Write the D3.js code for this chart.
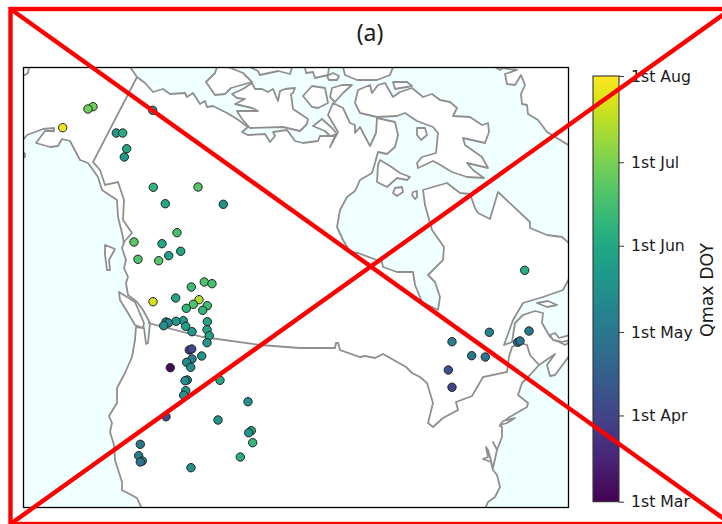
<!DOCTYPE html>
<html>
<head>
<meta charset="utf-8">
<script src="https://cdn.jsdelivr.net/npm/d3@7"></script>
<style>
  html, body { margin: 0; padding: 0; background: #fff; }
  text { font-family: "DejaVu Sans", sans-serif; fill: #1a1a1a; }
</style>
</head>
<body>
<div id="chart"></div>
<script>
// everything below is in map units, origin at the top left of the map frame

// gauge stations and their day of year of peak flow
const stationX = [38.7,69,64,128.7,92.3,98.7,102.7,100.3,129.3,174,141.3,199.3,153,110,138,156.7,144.7,114,134.7,
  180.3,188,167.3,175,129,151.7,169.3,183.3,162.3,178.7,183.3,159.3,152,142,144.3,139.7,161.7,183,168,185.3,183,
  165.3,167.7,177.7,168,162.7,166.7,146.3,163.3,161,196,161.7,159.7,224,142,194,227.3,224.7,228.7,116.3,216.3,
  114.7,118.3,116.3,167,500.7,465.3,505,428,493.7,496,447.7,461.3,424.3,428];
const stationY = [59.7,38.7,41,42.3,65,65,80.7,89,119.3,119,135.7,136.3,164.7,174,175.7,183.3,187.7,191.3,192.7,
  214,215.7,219,231.7,233.7,230,236.3,237.7,240.3,242.3,253.7,252.7,253.3,254,255,257.7,258.3,261.7,263.7,267.7,
  274.7,282,281,288,291,294.3,299.3,299.7,312,312.7,312.3,322.7,327.3,333.7,348.7,352,362.7,364.7,374.7,376.3,
  389,387.7,393,394,399.7,202.3,264.3,263,273.7,274.3,273,287.7,289,302,319.3];
const stationDoy = [208,179,180,138,140,155,150,142,160,172,152,138,168,174,152,150,147,170,172,
  170,168,165,195,203,150,170,165,160,160,150,145,143,128,130,138,148,150,143,148,142,
  88,94,140,128,133,136,64,137,136,152,140,137,136,96,142,152,140,162,122,156,
  125,140,118,136,155,126,122,126,112,118,122,118,98,92];

// colour bar
const barDoy = [60,91,121,152,182,213];
const barLabels = ["1st Mar","1st Apr","1st May","1st Jun","1st Jul","1st Aug"];

// land outlines
const mainland = [[5,-1],[106,-1],[113,9],[121,15],[129,24],[139,21],[146,26],[161,25],[163,29],[169,25],[176,36],[181,33],
  [183,39],[189,38],[203,45],[213,51],[224,59],[218,64],[224,67],[241,66],[246,74],[251,68],[249,64],[263,62],[271,73],
  [279,75],[294,73],[296,68],[306,68],[311,68],[306,79],[314,64],[304,47],[309,35],[319,40],[326,55],[331,57],[331,65],
  [336,59],[346,78],[352,65],[353,50],[371,54],[374,67],[371,79],[363,86],[354,84],[351,95],[348,105],[336,112],[331,123],
  [323,129],[316,142],[313,159],[319,172],[326,184],[334,185],[358,194],[359,199],[373,204],[389,204],[391,217],[398,234],
  [414,242],[416,229],[411,214],[404,207],[419,192],[420,179],[408,162],[401,137],[399,122],[409,119],[423,115],[436,125],
  [446,126],[451,140],[454,145],[466,151],[474,124],[506,154],[506,160],[523,167],[538,169],[546,176],[546,209],[539,222],
  [519,229],[499,235],[489,252],[480,277],[488,274],[491,255],[499,247],[511,243],[519,245],[518,255],[526,269],[541,277],
  [546,274],[546,287],[531,307],[526,308],[523,297],[531,286],[515,297],[506,307],[498,315],[494,327],[504,335],[503,339],
  [484,350],[476,358],[478,359],[478,369],[473,382],[469,374],[473,382],[469,400],[464,382],[462,379],[464,389],[459,391],
  [467,394],[469,402],[473,407],[476,419],[471,429],[464,434],[461,441],[118,441],[113,430],[98,422],[98,414],[91,392],
  [90,377],[86,364],[88,355],[85,348],[93,335],[93,320],[101,305],[108,289],[111,272],[112,259],[120,260],[122,276],
  [124,275],[126,255],[119,242],[113,234],[104,227],[102,215],[104,209],[100,200],[102,192],[98,180],[100,175],[98,165],
  [94,149],[93,132],[78,122],[74,109],[64,95],[56,92],[46,73],[38,71],[34,78],[26,79],[12,75],[21,63],[30,63],[30,60],
  [19,61],[3,67],[-1,72],[-1,7],[1,7],[4,5]];
const greenland = [[471,-1],[476,2],[478,0],[493,2],[481,6],[483,16],[491,17],[497,7],[501,17],[497,26],[498,36],[503,37],
  [504,46],[514,52],[523,64],[546,78],[546,-1]];
const islands = [
  [[95,224],[111,234],[120,255],[119,260],[111,257],[104,245],[96,232]],
  [[81,177],[91,181],[85,192],[86,202],[83,202],[81,187]],
  [[-1,84],[1,86],[1,89],[-1,89]],
  [[193,-1],[191,5],[182,14],[191,27],[201,26],[207,20],[228,14],[219,5],[204,-1]],
  [[208,26],[219,21],[228,15],[231,21],[238,21],[244,24],[249,21],[254,33],[256,23],[261,21],[271,20],[269,25],[267,26],
   [269,41],[284,51],[283,56],[276,63],[259,59],[226,60],[218,51],[213,43],[234,43],[228,40],[211,36],[221,31],[213,30]],
  [[226,-1],[234,3],[236,7],[254,3],[266,6],[268,-1]],
  [[281,-1],[282,5],[289,4],[291,10],[304,7],[305,-1]],
  [[309,5],[315,8],[313,12],[305,12],[303,8]],
  [[319,-1],[321,7],[333,12],[353,12],[366,7],[369,-1]],
  [[279,28],[288,18],[301,20],[304,35],[294,40],[288,39]],
  [[306,29],[308,20],[318,17],[328,17],[319,25],[311,34]],
  [[289,58],[298,51],[308,60],[313,66],[306,68],[301,63]],
  [[331,35],[334,22],[346,17],[348,25],[354,17],[361,15],[369,29],[376,24],[388,20],[399,29],[408,26],[416,32],[426,34],
   [433,40],[429,48],[446,49],[458,57],[464,55],[465,64],[461,75],[439,70],[441,77],[458,89],[464,100],[443,95],[449,102],
   [460,110],[443,109],[428,104],[413,95],[409,93],[394,100],[393,95],[398,89],[412,85],[414,65],[409,59],[393,53],[381,45],
   [373,48],[353,49],[336,45]],
  [[369,14],[383,14],[388,18],[371,21]],
  [[356,92],[366,98],[376,105],[386,109],[383,112],[373,110],[363,119],[353,114],[354,97]],
  [[371,120],[378,119],[379,124],[373,128],[369,125]],
  [[389,124],[393,123],[393,129],[391,131],[388,127]],
  [[393,60],[401,60],[403,67],[397,72],[393,67]],
  [[513,235],[524,233],[533,237],[523,239]],
  [[526,267],[531,265],[535,270],[546,267],[546,272],[538,274],[529,272]],
  [[476,357],[479,353],[491,350],[483,355]]
];

// country borders
const usCanadaBorder = [[124,255],[179,269],[236,277],[276,280],[311,280],[312,275],[314,275],[316,282],[336,289],[341,288],
  [351,290],[359,286],[382,299],[388,305],[396,309],[403,315],[409,335],[404,355],[409,359],[419,350],[434,342],[432,334],
  [448,328],[459,309],[483,304],[485,289],[488,279],[496,275],[503,277],[506,287],[515,297]];
const alaskaBorder = [[113,9],[69,94],[76,102],[81,117],[94,114],[100,132],[99,152],[108,165],[99,175]];

const width = 722, height = 524;
const map = {left: 23.5, top: 67.5, width: 545, height: 440};
const bar = {left: 593, top: 76, width: 26, height: 425.7};

const svg = d3.select("#chart").append("svg")
  .attr("width", width)
  .attr("height", height)
  .style("display", "block");

const xScale = d3.scaleLinear().domain([-0.5, 544.5]).range([map.left, map.left + map.width]);
const yScale = d3.scaleLinear().domain([-0.5, 439.5]).range([map.top, map.top + map.height]);
const colorScale = d3.scaleSequential(d3.interpolateViridis).domain([60, 213]);
const barScale = d3.scaleLinear().domain([60, 213]).range([bar.top + bar.height, bar.top]);

const line = d3.line().x(d => xScale(d[0])).y(d => yScale(d[1]));

const defs = svg.append("defs");
defs.append("clipPath").attr("id", "mapClip").append("rect")
  .attr("x", map.left).attr("y", map.top)
  .attr("width", map.width).attr("height", map.height);

const gradient = defs.append("linearGradient").attr("id", "viridisBar")
  .attr("x1", 0).attr("y1", 1).attr("x2", 0).attr("y2", 0);
d3.range(0, 1.001, 0.05).forEach(t => {
  gradient.append("stop").attr("offset", t).attr("stop-color", d3.interpolateViridis(t));
});

// map
const mapG = svg.append("g").attr("clip-path", "url(#mapClip)");
mapG.append("rect")
  .attr("x", map.left).attr("y", map.top)
  .attr("width", map.width).attr("height", map.height)
  .attr("fill", "#f0ffff");

mapG.selectAll("path.land")
  .data([mainland, greenland].concat(islands))
  .join("path")
  .attr("class", "land")
  .attr("d", d => line(d) + "Z")
  .attr("fill", "#fff")
  .attr("stroke", "#8f8f8f")
  .attr("stroke-width", 1.8)
  .attr("stroke-linejoin", "round");

mapG.selectAll("path.border")
  .data([usCanadaBorder, alaskaBorder])
  .join("path")
  .attr("class", "border")
  .attr("d", line)
  .attr("fill", "none")
  .attr("stroke", "#8f8f8f")
  .attr("stroke-width", 1.8);

mapG.selectAll("circle")
  .data(stationDoy)
  .join("circle")
  .attr("cx", (d, i) => xScale(stationX[i]))
  .attr("cy", (d, i) => yScale(stationY[i]))
  .attr("r", 4.2)
  .attr("fill", d => colorScale(d))
  .attr("stroke", "#222")
  .attr("stroke-width", 1);

svg.append("rect")
  .attr("x", map.left).attr("y", map.top)
  .attr("width", map.width).attr("height", map.height)
  .attr("fill", "none")
  .attr("stroke", "#000")
  .attr("stroke-width", 1.3);

svg.append("text")
  .attr("x", 370).attr("y", 41)
  .attr("text-anchor", "middle")
  .style("font-family", '"Noto Sans", sans-serif')
  .style("font-size", "23px")
  .text("(a)");

// colour bar
svg.append("rect")
  .attr("x", bar.left).attr("y", bar.top)
  .attr("width", bar.width).attr("height", bar.height)
  .attr("fill", "url(#viridisBar)")
  .attr("stroke", "#333")
  .attr("stroke-width", 1.1);

const barAxis = d3.axisRight(barScale)
  .tickValues(barDoy)
  .tickFormat((d, i) => barLabels[i])
  .tickSize(5)
  .tickPadding(7);

const barAxisG = svg.append("g")
  .attr("transform", "translate(" + (bar.left + bar.width) + ",0)")
  .call(barAxis);
barAxisG.select(".domain").remove();
barAxisG.selectAll("line").attr("stroke", "#333");
barAxisG.selectAll("text")
  .attr("fill", "#1a1a1a")
  .style("font-family", '"DejaVu Sans", sans-serif')
  .style("font-size", "15.7px");

svg.append("text")
  .attr("transform", "translate(713,290) rotate(-90)")
  .attr("text-anchor", "middle")
  .style("font-size", "17.4px")
  .text("Qmax DOY");

// red cross drawn over the whole figure
const cross = {x0: 10.5, y0: 9, x1: 731, y1: 524};
const crossG = svg.append("g").attr("fill", "none").attr("stroke", "#ff0000").attr("stroke-width", 4.4);
crossG.append("rect")
  .attr("x", cross.x0).attr("y", cross.y0)
  .attr("width", cross.x1 - cross.x0).attr("height", cross.y1 - cross.y0);
crossG.append("line").attr("x1", cross.x0).attr("y1", cross.y0).attr("x2", cross.x1).attr("y2", cross.y1);
crossG.append("line").attr("x1", cross.x0).attr("y1", cross.y1).attr("x2", cross.x1).attr("y2", cross.y0);
</script>
</body>
</html>
